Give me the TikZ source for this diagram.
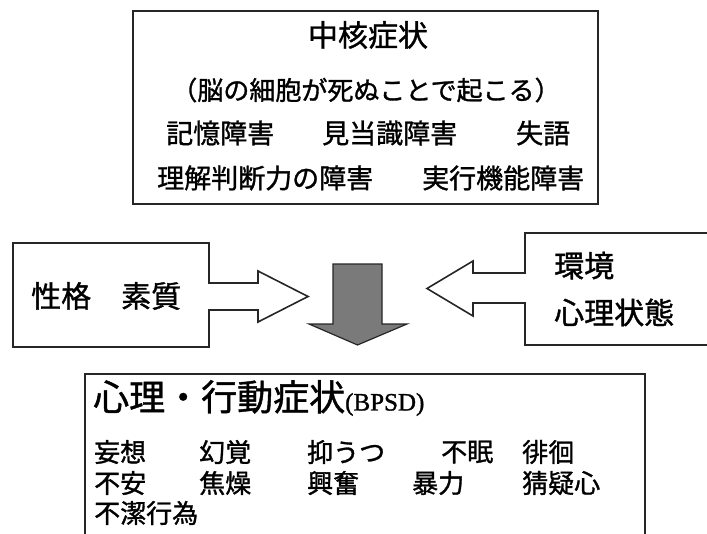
\documentclass[tikz,border=0pt]{standalone}
\usepackage{fontspec}
\newfontfamily\jpfont[FakeBold=1.2]{Noto Sans CJK JP}
\newfontfamily\latinfont[FakeBold=1.2]{Liberation Serif}

\begin{document}
\begin{tikzpicture}[x=1pt, y=-1pt,
    frame/.style={draw=black!85, line width=1.6pt},
    txt/.style={inner sep=0pt, anchor=west, font=\jpfont\fontsize{26}{30}\selectfont},
    mid/.style={txt, font=\jpfont\fontsize{27}{30}\selectfont},
    big/.style={txt, font=\jpfont\fontsize{30}{47}\selectfont, align=left}]
    \useasboundingbox (0,0) rectangle (707,533);

    % core symptoms
    \node[frame, anchor=north west, minimum width=465, minimum height=193] (core) at (132,10) {};
    \node[big, anchor=center] (c0) at (368,35) {中核症状};
    \node[txt, anchor=center] (c1) at (366,90) {（脳の細胞が死ぬことで起こる）};
    \node[mid] (c2) at (166,133) {記憶障害};
    \node[mid] (c3) at (322,133) {見当識障害};
    \node[mid] (c4) at (516,133) {失語};
    \node[mid] (c5) at (157,178) {理解判断力の障害};
    \node[mid] (c6) at (422,178) {実行機能障害};

    % boxes with arrows
    \draw[frame] (13,243) -- (209,243) -- (209,283) -- (258,283) -- (258,271) -- (308,296.5)
        -- (258,322) -- (258,310) -- (209,310) -- (209,347) -- (13,347) -- cycle;
    \node[big] (p1) at (31,296) {性格　素質};
    \draw[frame] (712,233) -- (525,233) -- (525,273) -- (473,273) -- (473,261) -- (427,288.5)
        -- (473,316) -- (473,303) -- (525,303) -- (525,345) -- (712,345);
    \node[big] (p2) at (554,289) {環境\\心理状態};
    \draw[fill=black!52, draw=black!85, line width=1.2pt] (333,264) -- (382,264) -- (382,324)
        -- (407,324) -- (357.5,345) -- (309,324) -- (333,324) -- cycle;

    % BPSD
    \draw[frame] (85,545) -- (85,374) -- (645,374) -- (645,545);
    \node[txt, font=\jpfont\fontsize{36}{36}\selectfont] (b0) at (93,398)
        {心理・行動症状{\latinfont\fontsize{25}{25}\selectfont(BPSD)}};
    \node[txt] (b1) at (94,452) {妄想};
    \node[txt] (b2) at (199,452) {幻覚};
    \node[txt] (b3) at (307,452) {抑うつ};
    \node[txt] (b4) at (441,452) {不眠};
    \node[txt] (b5) at (522,452) {徘徊};
    \node[txt] (b6) at (94,483) {不安};
    \node[txt] (b7) at (199,483) {焦燥};
    \node[txt] (b8) at (307,483) {興奮};
    \node[txt] (b9) at (412,483) {暴力};
    \node[txt] (b10) at (522,483) {猜疑心};
    \node[txt] (b11) at (94,513) {不潔行為};
\end{tikzpicture}
\end{document}
